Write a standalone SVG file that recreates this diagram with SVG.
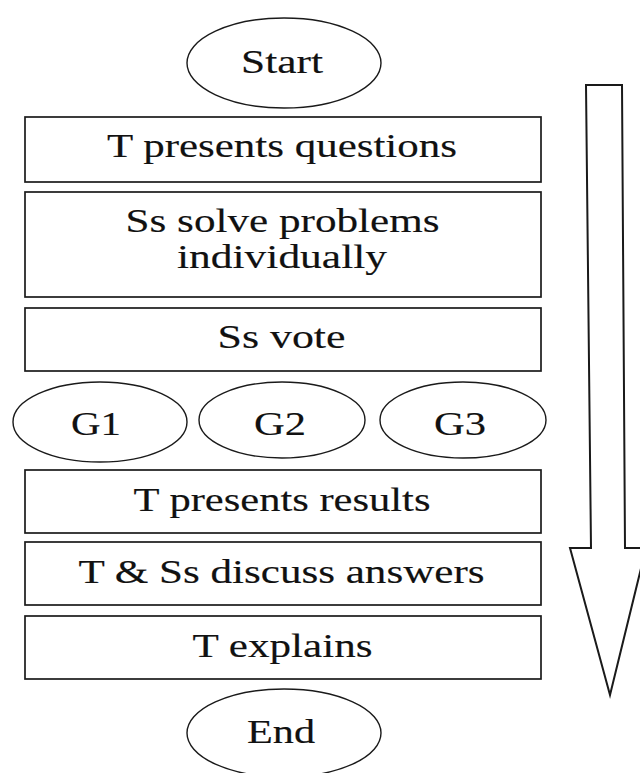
<svg xmlns="http://www.w3.org/2000/svg" width="640" height="773" viewBox="0 0 640 773">
<style>
.box{fill:#fff;stroke:#1a1a1a;stroke-width:1.7}
.oval{fill:#fff;stroke:#1a1a1a;stroke-width:1.4}
.t{font-family:"Liberation Serif","Times New Roman",serif;font-size:33px;fill:#111;stroke:#111;stroke-width:0.15;text-anchor:middle}
.arrow{fill:#fff;stroke:#1a1a1a;stroke-width:2;stroke-linejoin:miter}
</style>
<rect width="640" height="773" fill="#fff"/>
<g id="connectors">
<polygon class="arrow" points="586,85 622,85 625,548 646,548 610,695 570,548 591,548"/>
</g>
<g id="start">
<ellipse class="oval" cx="284" cy="63" rx="97" ry="45"/>
<text class="t" transform="translate(282,73) scale(1.38,1)" textLength="59.4" lengthAdjust="spacingAndGlyphs">Start</text>
</g>
<g id="present-questions">
<rect class="box" x="25" y="117" width="516" height="65"/>
<text class="t" transform="translate(282,157) scale(1.38,1)" textLength="253.6" lengthAdjust="spacingAndGlyphs">T presents questions</text>
</g>
<g id="solve">
<rect class="box" x="25" y="192" width="516" height="105"/>
<text class="t" transform="translate(282.5,232) scale(1.38,1)" textLength="227.5" lengthAdjust="spacingAndGlyphs">Ss solve problems</text>
<text class="t" transform="translate(282,268) scale(1.38,1)" textLength="152.2" lengthAdjust="spacingAndGlyphs">individually</text>
</g>
<g id="vote">
<rect class="box" x="25" y="308" width="516" height="63"/>
<text class="t" transform="translate(281.5,348) scale(1.38,1)" textLength="92.8" lengthAdjust="spacingAndGlyphs">Ss vote</text>
</g>
<g id="g1">
<ellipse class="oval" cx="100" cy="422" rx="87" ry="40"/>
<text class="t" transform="translate(96,435) scale(1.38,1)" textLength="36.2" lengthAdjust="spacingAndGlyphs">G1</text>
</g>
<g id="g2">
<ellipse class="oval" cx="282" cy="420" rx="83" ry="38"/>
<text class="t" transform="translate(280,435) scale(1.38,1)" textLength="37.7" lengthAdjust="spacingAndGlyphs">G2</text>
</g>
<g id="g3">
<ellipse class="oval" cx="463" cy="420" rx="83" ry="38"/>
<text class="t" transform="translate(460,435) scale(1.38,1)" textLength="37.7" lengthAdjust="spacingAndGlyphs">G3</text>
</g>
<g id="present-results">
<rect class="box" x="25" y="470" width="516" height="63"/>
<text class="t" transform="translate(282,511) scale(1.38,1)" textLength="215.2" lengthAdjust="spacingAndGlyphs">T presents results</text>
</g>
<g id="discuss">
<rect class="box" x="25" y="542" width="516" height="63"/>
<text class="t" transform="translate(281.5,583) scale(1.38,1)" textLength="294.2" lengthAdjust="spacingAndGlyphs">T &amp; Ss discuss answers</text>
</g>
<g id="explains">
<rect class="box" x="25" y="616" width="516" height="63"/>
<text class="t" transform="translate(282.5,657) scale(1.38,1)" textLength="130.4" lengthAdjust="spacingAndGlyphs">T explains</text>
</g>
<g id="end">
<ellipse class="oval" cx="284" cy="733" rx="97" ry="44"/>
<text class="t" transform="translate(281,743) scale(1.38,1)" textLength="49.3" lengthAdjust="spacingAndGlyphs">End</text>
</g>
</svg>
